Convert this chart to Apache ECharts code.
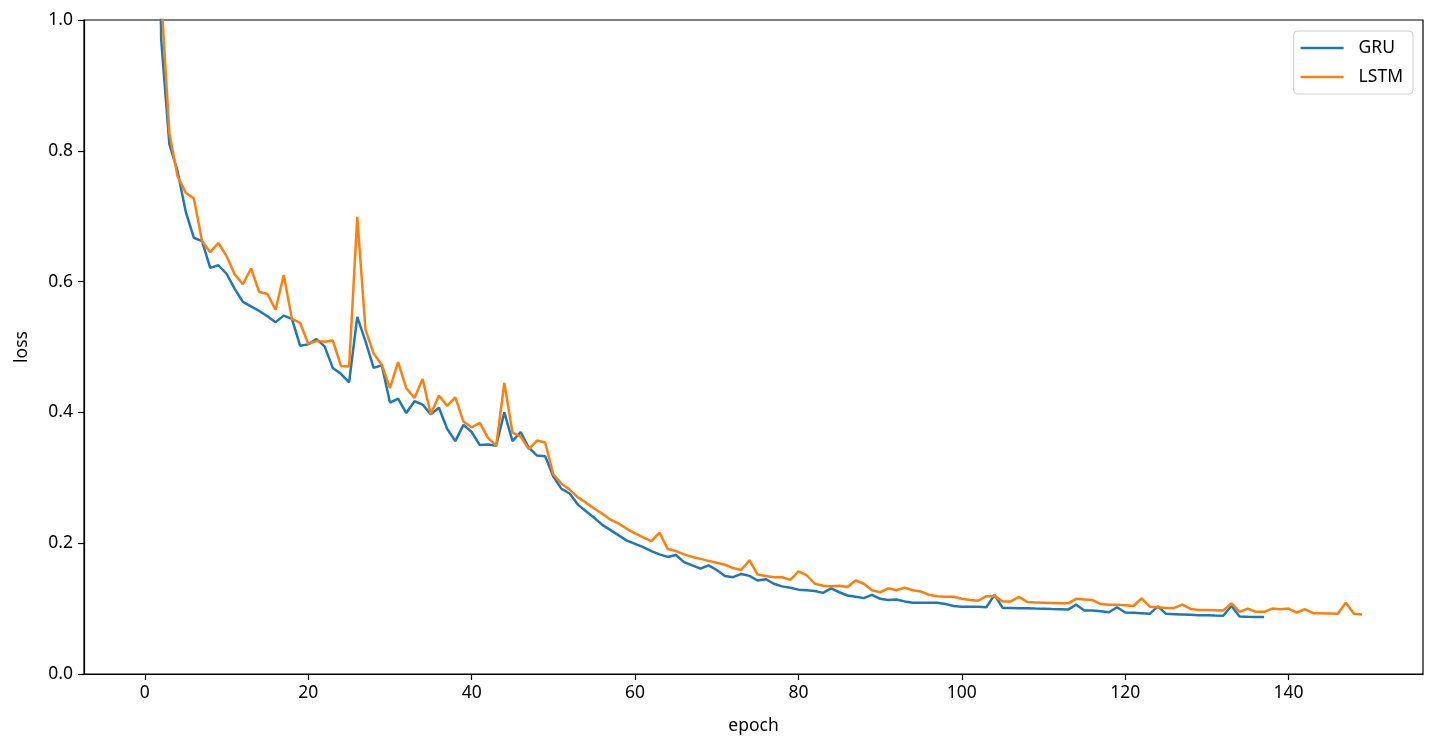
<!DOCTYPE html>
<html>
<head>
<meta charset="utf-8">
<script src="https://cdn.jsdelivr.net/npm/echarts@6/dist/echarts.min.js"></script>
<style>
html,body{margin:0;padding:0;background:#fff;}
#chart{width:1441px;height:750px;}
</style>
</head>
<body>
<div id="chart"></div>
<script>
const seriesNames = ['GRU', 'LSTM'];
const xTicks = [0, 20, 40, 60, 80, 100, 120, 140];
const yTicks = [0, 0.2, 0.4, 0.6, 0.8, 1.0];

// loss per epoch (epoch = index)
const gruLoss = [
  2.4, 1.8, 0.97, 0.810, 0.769, 0.707, 0.667, 0.662, 0.621, 0.625,
  0.612, 0.589, 0.569, 0.562, 0.555, 0.547, 0.538, 0.548, 0.543, 0.502,
  0.504, 0.512, 0.501, 0.468, 0.459, 0.446, 0.546, 0.509, 0.468, 0.472,
  0.415, 0.421, 0.399, 0.417, 0.412, 0.397, 0.407, 0.375, 0.356, 0.381,
  0.370, 0.350, 0.351, 0.349, 0.400, 0.356, 0.370, 0.346, 0.334, 0.333,
  0.302, 0.283, 0.276, 0.259, 0.249, 0.239, 0.228, 0.220, 0.212, 0.204,
  0.199, 0.194, 0.188, 0.183, 0.179, 0.182, 0.171, 0.166, 0.161, 0.166,
  0.159, 0.150, 0.148, 0.153, 0.150, 0.143, 0.145, 0.138, 0.134, 0.132,
  0.129, 0.128, 0.127, 0.124, 0.131, 0.125, 0.120, 0.118, 0.116, 0.121,
  0.115, 0.113, 0.114, 0.111, 0.109, 0.109, 0.109, 0.109, 0.107, 0.104,
  0.103, 0.103, 0.103, 0.102, 0.121, 0.101, 0.101, 0.1007, 0.1004, 0.100,
  0.0997, 0.0993, 0.099, 0.0985, 0.106, 0.097, 0.097, 0.096, 0.0945, 0.102,
  0.094, 0.0935, 0.093, 0.092, 0.1035, 0.092, 0.0915, 0.091, 0.0905, 0.090,
  0.0897, 0.0893, 0.089, 0.104, 0.088, 0.0875, 0.0872, 0.087
];

const lstmLoss = [
  2.6, 1.9, 1.035, 0.827, 0.761, 0.736, 0.727, 0.662, 0.645, 0.659,
  0.639, 0.611, 0.596, 0.620, 0.584, 0.581, 0.557, 0.610, 0.543, 0.537,
  0.505, 0.509, 0.508, 0.510, 0.471, 0.470, 0.699, 0.527, 0.490, 0.473,
  0.437, 0.477, 0.437, 0.422, 0.451, 0.397, 0.426, 0.410, 0.423, 0.386,
  0.377, 0.384, 0.361, 0.349, 0.445, 0.369, 0.363, 0.344, 0.357, 0.354,
  0.305, 0.291, 0.282, 0.270, 0.262, 0.253, 0.245, 0.236, 0.230, 0.222,
  0.215, 0.209, 0.203, 0.216, 0.191, 0.188, 0.183, 0.179, 0.176, 0.173,
  0.170, 0.167, 0.162, 0.159, 0.174, 0.152, 0.150, 0.148, 0.148, 0.144,
  0.157, 0.151, 0.138, 0.135, 0.134, 0.135, 0.133, 0.143, 0.138, 0.128,
  0.125, 0.131, 0.128, 0.132, 0.128, 0.126, 0.121, 0.119, 0.118, 0.118,
  0.115, 0.113, 0.112, 0.119, 0.119, 0.111, 0.111, 0.118, 0.110, 0.1095,
  0.109, 0.1085, 0.108, 0.108, 0.115, 0.114, 0.113, 0.107, 0.106, 0.106,
  0.105, 0.104, 0.1155, 0.103, 0.102, 0.101, 0.101, 0.106, 0.0995, 0.098,
  0.098, 0.0975, 0.097, 0.108, 0.095, 0.100, 0.095, 0.095, 0.100, 0.099,
  0.100, 0.094, 0.099, 0.093, 0.093, 0.0925, 0.092, 0.109, 0.092, 0.091
];

const toPairs = arr => arr.map((v, i) => [i, v]);
const font = '"Noto Sans", sans-serif';
const fs = 17.5;
const lastEpoch = lstmLoss.length - 1;
const pad = lastEpoch * 0.05;

const chart = echarts.init(document.getElementById('chart'), null, {renderer: 'canvas'});
chart.setOption({
  animation: false,
  backgroundColor: '#ffffff',
  grid: {
    left: 84, right: 18, top: 20, bottom: 76,
    containLabel: false, outerBoundsMode: 'none',
    show: true, borderColor: '#000000', borderWidth: 1.2, backgroundColor: 'transparent'
  },
  legend: {
    data: seriesNames,
    orient: 'vertical',
    right: 28, top: 31,
    icon: 'rect',
    itemWidth: 43, itemHeight: 2.5,
    itemGap: 11,
    padding: [8, 10, 8, 7],
    backgroundColor: 'rgba(255,255,255,0.8)',
    borderColor: '#d0d0d0', borderWidth: 1, borderRadius: 4,
    textStyle: {fontFamily: font, fontSize: fs, color: '#000', padding: [0, 0, 0, 10]}
  },
  xAxis: {
    type: 'value',
    min: -pad, max: lastEpoch + pad,
    name: 'epoch', nameLocation: 'middle', nameGap: 43,
    nameTextStyle: {fontFamily: font, fontSize: fs, color: '#000'},
    axisLine: {show: true, onZero: false, lineStyle: {color: '#000', width: 1.2}},
    axisTick: {show: true, length: 6, lineStyle: {color: '#000', width: 1.2}, customValues: xTicks},
    axisLabel: {fontFamily: font, fontSize: fs, color: '#000', margin: 10, customValues: xTicks},
    splitLine: {show: false}
  },
  yAxis: {
    type: 'value',
    min: yTicks[0], max: yTicks[yTicks.length - 1], interval: 0.2,
    name: 'loss', nameLocation: 'middle', nameGap: 53,
    nameTextStyle: {fontFamily: font, fontSize: fs, color: '#000'},
    axisLine: {show: true, onZero: false, lineStyle: {color: '#000', width: 1.2}},
    axisTick: {show: true, length: 6, lineStyle: {color: '#000', width: 1.2}},
    axisLabel: {fontFamily: font, fontSize: fs, color: '#000', margin: 11,
      formatter: v => v.toFixed(1)},
    splitLine: {show: false}
  },
  series: [
    {name: seriesNames[0], type: 'line', data: toPairs(gruLoss), symbol: 'none', clip: true,
     lineStyle: {color: '#1f77b4', width: 2.5}, itemStyle: {color: '#1f77b4'}},
    {name: seriesNames[1], type: 'line', data: toPairs(lstmLoss), symbol: 'none', clip: true,
     lineStyle: {color: '#ff7f0e', width: 2.5}, itemStyle: {color: '#ff7f0e'}}
  ]
});
</script>
</body>
</html>
